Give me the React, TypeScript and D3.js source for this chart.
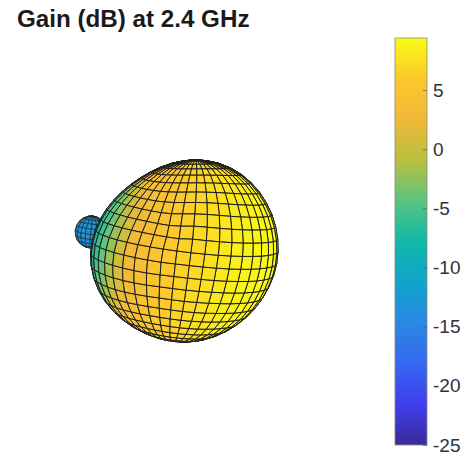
import React, { useEffect, useRef } from "react";
import * as d3 from "d3";

const titleText = "Gain (dB) at 2.4 GHz";
const barTicks = [5, 0, -5, -10, -15, -20, -25];
const gainMin = -25;
const gainMax = 9.4;

// parula colour stops as seen on the colorbar
const parulaStops = ["#3b2a98", "#3f3ef0", "#3568f0", "#2a88e4", "#10a4cc", "#10b8a8", "#5cc480", "#b8c040", "#f0b838", "#fdc82c", "#f9fb15"];

// gain against angle from the main beam (degrees)
const beamAngles = [0, 20, 52, 74, 94, 113, 122, 130, 140, 158, 180];
const beamGains = [9.4, 9.4, 8.9, 7.7, 6.3, 4.3, 2.8, 0.5, -3, -7, -8];

// outline of the main lobe: radius in pixels every 30 degrees round the screen
const outlineRadii = [94, 95, 96, 90, 83, 87, 94, 94, 90, 91, 90, 91];

// the small back lobe
const lobeAngles = [0, 90, 180];
const lobeGains = [-13, -13.5, -15];

const toRad = Math.PI / 180;

type Part = {
  cx: number;
  cy: number;
  radius: (screenDeg: number) => number;
  gain: (offAxis: number) => number;
  axis: number[];
  bulge: number;
  latStep: number;
  lonStep: number;
  strokeWidth: number;
};

const App = () => {
  const svgRef = useRef<SVGSVGElement>(null);

  useEffect(() => {
    const svg = d3.select(svgRef.current);
    svg.selectAll("*").remove();

    const t = d3.scaleLinear().domain([gainMin, gainMax]).range([0, 1]);
    const parula = d3.scaleLinear<string>()
      .domain(parulaStops.map((_, i) => i / (parulaStops.length - 1)))
      .range(parulaStops)
      .interpolate(d3.interpolateRgb);
    const color = (g: number) => parula(t(g));

    const tilt = 8 * toRad; // pole leaning to the viewer
    const roll = -7 * toRad; // pole leaning to the right
    const line = d3.line().curve(d3.curveLinearClosed);

    const drawPart = (part: Part) => {
      const node = (lat: number, lon: number) => {
        const cl = Math.cos(lat * toRad);
        let x = cl * Math.sin(lon * toRad);
        let y = Math.sin(lat * toRad);
        let z = cl * Math.cos(lon * toRad);
        const y1 = y * Math.cos(tilt) - z * Math.sin(tilt);
        const z1 = y * Math.sin(tilt) + z * Math.cos(tilt);
        y = y1;
        z = z1;
        const x2 = x * Math.cos(roll) - y * Math.sin(roll);
        const y2 = x * Math.sin(roll) + y * Math.cos(roll);
        x = x2;
        y = y2;
        let deg = Math.atan2(y, x) / toRad;
        if (deg < 0) deg += 360;
        const r = part.radius(deg) * (1 + part.bulge * z);
        return { x, y, z, px: part.cx + r * x, py: part.cy - r * y };
      };

      const quads: { z: number; fill: string; pts: [number, number][] }[] = [];
      for (const lat of d3.range(-90, 90, part.latStep)) {
        for (const lon of d3.range(-180, 180, part.lonStep)) {
          const c = [
            node(lat, lon),
            node(lat, lon + part.lonStep),
            node(lat + part.latStep, lon + part.lonStep),
            node(lat + part.latStep, lon),
          ];
          const mx = d3.mean(c, (d) => d.x) as number;
          const my = d3.mean(c, (d) => d.y) as number;
          const mz = d3.mean(c, (d) => d.z) as number;
          if (mz < -0.05) continue;
          const len = Math.hypot(mx, my, mz) || 1;
          const dot = (mx * part.axis[0] + my * part.axis[1] + mz * part.axis[2]) / len;
          const off = Math.acos(Math.max(-1, Math.min(1, dot))) / toRad;
          quads.push({
            z: mz,
            fill: color(part.gain(off)),
            pts: c.map((d) => [d.px, d.py] as [number, number]),
          });
        }
      }
      quads.sort((a, b) => a.z - b.z);
      svg.append("g")
        .selectAll("path")
        .data(quads)
        .enter()
        .append("path")
        .attr("d", (d) => line(d.pts))
        .attr("fill", (d) => d.fill)
        .attr("stroke", "#1c1c1c")
        .attr("stroke-width", part.strokeWidth)
        .attr("stroke-linejoin", "round");
    };

    const outline = d3.interpolateBasisClosed(outlineRadii);
    const beam = d3.scaleLinear().domain(beamAngles).range(beamGains);
    const lobe = d3.scaleLinear().domain(lobeAngles).range(lobeGains);

    // back lobe first, the main lobe hides part of it
    drawPart({
      cx: 91,
      cy: 232,
      radius: () => 16,
      gain: lobe,
      axis: [0.2, 0.2, 0.96],
      bulge: 0.05,
      latStep: 18,
      lonStep: 18,
      strokeWidth: 0.6,
    });
    drawPart({
      cx: 184,
      cy: 251,
      radius: (deg) => outline(deg / 360),
      gain: beam,
      axis: [0.987, -0.16, 0],
      bulge: 0.1,
      latStep: 7.5,
      lonStep: 8,
      strokeWidth: 1,
    });

    // colorbar
    const barX = 395;
    const barW = 32;
    const barTop = 38;
    const barBottom = 445;
    const barScale = d3.scaleLinear().domain([gainMin, gainMax]).range([barBottom, barTop]);

    const defs = svg.append("defs");
    const grad = defs.append("linearGradient")
      .attr("id", "parula")
      .attr("x1", 0).attr("x2", 0).attr("y1", 1).attr("y2", 0);
    parulaStops.forEach((c, i) => {
      grad.append("stop")
        .attr("offset", i / (parulaStops.length - 1))
        .attr("stop-color", c);
    });

    svg.append("rect")
      .attr("x", barX)
      .attr("y", barTop)
      .attr("width", barW)
      .attr("height", barBottom - barTop)
      .attr("fill", "url(#parula)")
      .attr("stroke", "#8a8a7a")
      .attr("stroke-width", 0.8);

    const axis = svg.append("g")
      .attr("transform", `translate(${barX + barW},0)`)
      .call(
        d3.axisRight(barScale)
          .tickValues(barTicks)
          .tickSize(-4)
          .tickPadding(6)
          .tickFormat((d) => String(d))
      );
    axis.select(".domain").remove();
    axis.selectAll("line").attr("stroke", "#555").attr("stroke-width", 0.7);
    axis.selectAll("text")
      .attr("fill", "#333")
      .style("font-family", "'Liberation Sans', Arial, sans-serif")
      .style("font-size", "19px");

    svg.append("text")
      .attr("x", 17)
      .attr("y", 27)
      .attr("fill", "#1a1a1a")
      .style("font-family", "'Liberation Sans', Arial, sans-serif")
      .style("font-size", "24.2px")
      .style("font-weight", "bold")
      .text(titleText);
  }, []);

  return (
    <svg
      ref={svgRef}
      width={471}
      height={455}
      style={{ position: "absolute", left: 0, top: 0, background: "#fff" }}
    />
  );
};

export default App;
